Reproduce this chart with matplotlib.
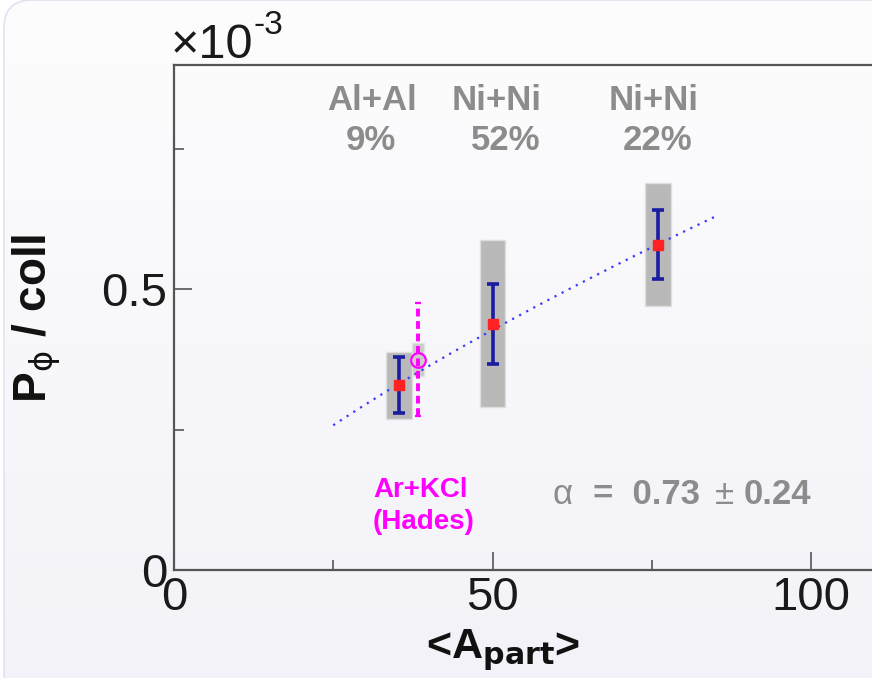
import numpy as np
import matplotlib
matplotlib.use("Agg")
import matplotlib.pyplot as plt
from matplotlib.patches import FancyBboxPatch
from matplotlib.transforms import IdentityTransform

plt.rcParams['font.family'] = ['Liberation Sans', 'DejaVu Sans']

# --- data (P_phi/coll in units of 1e-3) ---
systems = ['Al+Al', 'Ni+Ni', 'Ni+Ni']
shares = ['9%', '52%', '22%']
apart = [35.3, 50.0, 76.0]
p_phi = [0.329, 0.439, 0.580]
stat_err = [0.050, 0.071, 0.061]
sys_err = [0.060, 0.149, 0.110]
box_halfwidth = [2.0, 2.0, 2.0]

hades_apart = [38.3]
hades_p = [0.375]
hades_stat = [0.100]
hades_sys = [0.030]
hades_halfwidth = [1.0]

fit_alpha = 0.73
fit_alpha_err = 0.24
fit_norm = 0.0246
fit_range = [25.0, 85.0]

xticks = [0, 50, 100]
yticks = [0, 0.5]
yticklabels = ['0', '0.5']

W, H = 872, 678
fig = plt.figure(figsize=(W / 100, H / 100), dpi=100)
fig.patch.set_facecolor('white')


def px(x, y):
    # pixel position (from top-left) -> figure fraction
    return x / W, 1 - y / H


# background panel with rounded corner and soft gradient
bg = fig.add_axes([0, 0, 1, 1], zorder=-10)
bg.axis('off')
grad = np.linspace(0, 1, 256).reshape(-1, 1)
top = np.array([0.992, 0.992, 0.994])
bot = np.array([0.953, 0.949, 0.973])
img = top + (bot - top) * grad[:, :, None]
panel = FancyBboxPatch((4, -40), 950, H + 40, boxstyle='round,pad=0,rounding_size=28',
                       transform=IdentityTransform(), facecolor='none',
                       edgecolor='#e2e2f2', lw=1.2)
bg.add_patch(panel)
im = bg.imshow(img, extent=[0, 1, 0, 1], aspect='auto', origin='upper')
im.set_clip_path(panel)
bg.set_xlim(0, 1)
bg.set_ylim(0, 1)

# main axes
ax = fig.add_axes([174 / W, 108 / H, 120 * 6.37 / W, 505 / H])
ax.patch.set_alpha(0)
ax.set_xlim(0, 120)
ax.set_ylim(0, 0.9)

# systematic boxes
ax.bar(apart, [2 * s for s in sys_err], bottom=[p - s for p, s in zip(p_phi, sys_err)],
       width=[2 * w for w in box_halfwidth], color='#b9b9b9', edgecolor='#dedede',
       lw=1, zorder=1)
ax.bar(hades_apart, [2 * s for s in hades_sys],
       bottom=[p - s for p, s in zip(hades_p, hades_sys)],
       width=[2 * w for w in hades_halfwidth], color='#cbcbcb', edgecolor='#e2e2e2',
       lw=1, zorder=1)

# power-law fit
xf = np.linspace(fit_range[0], fit_range[1], 120)
ax.plot(xf, fit_norm * xf ** fit_alpha, color='#3a3aff', lw=1.6,
        linestyle=(0, (1, 2.6)), zorder=2)

# data points
ax.errorbar(apart, p_phi, yerr=stat_err, fmt='s', color='#ff2222', ms=7,
            ecolor='#1c1ca0', elinewidth=2.6, capsize=4, capthick=2.6, zorder=3)
hd = ax.errorbar(hades_apart, hades_p, yerr=hades_stat, fmt='o', mfc='none',
                 mec='#ff00ff', mew=1.6, ms=10.5, ecolor='#ff00ff', elinewidth=2.8,
                 capsize=2, capthick=2.5, zorder=3)
hd[2][0].set_linestyle((0, (2, 1.2)))

# axes styling
for side in ['left', 'bottom', 'top']:
    ax.spines[side].set_color('#555555')
    ax.spines[side].set_linewidth(1.6)
ax.spines['right'].set_visible(False)

ax.set_xticks(xticks)
ax.set_xticks([25, 75], minor=True)
ax.set_yticks(yticks)
ax.set_yticks([0.25, 0.75], minor=True)
tickfont = ['Liberation Sans Narrow', 'Liberation Sans']
ax.set_xticklabels([str(t) for t in xticks], fontfamily=tickfont, fontsize=34,
                   color='#1a1a1a')
ax.set_yticklabels(yticklabels, fontfamily=tickfont, fontsize=34, color='#1a1a1a')
ax.tick_params(axis='both', which='major', direction='in', length=13, width=1.2,
               color='#555555')
ax.tick_params(axis='both', which='minor', direction='in', length=7, width=1.2,
               color='#555555')
ax.tick_params(axis='x', which='major', pad=4)
ax.tick_params(axis='y', which='major', pad=5)

# exponent label
fig.text(*px(171, 58), '×10', fontsize=35, fontfamily=tickfont, color='#1a1a1a',
         ha='left', va='baseline')
fig.text(*px(253, 34), '-3', fontsize=24, fontfamily=tickfont, color='#1a1a1a',
         ha='left', va='baseline')

# axis titles
fig.text(*px(37, 318), r'P$_{\mathrm{\phi}}$ / coll', rotation=90, fontsize=33,
         fontweight='bold', color='#111111', ha='center', va='center')
fig.text(*px(503, 650), r'<A$_{\mathbf{part}}$>', fontsize=31, fontweight='bold',
         color='#111111', ha='center', va='center')

# system labels
gray = '#8c8c8c'
name_x = [372, 497, 654]
share_x = [371, 506, 658]
for name, share, nx, sx in zip(systems, shares, name_x, share_x):
    fig.text(*px(nx, 100), name, fontsize=25, fontweight='bold', color=gray,
             ha='center', va='center')
    fig.text(*px(sx, 140), share, fontsize=25, fontweight='bold', color=gray,
             ha='center', va='center')

fig.text(*px(421, 490), 'Ar+KCl', fontsize=20, fontweight='bold', color='#ff00ff',
         ha='center', va='center')
fig.text(*px(424, 522), '(Hades)', fontsize=20, fontweight='bold', color='#ff00ff',
         ha='center', va='center')

# fit result
fig.text(*px(552, 495), 'α', fontsize=25, color=gray, ha='left', va='center')
fig.text(*px(593, 495), f'=  {fit_alpha:.2f}', fontsize=25, fontweight='bold',
         color=gray, ha='left', va='center')
fig.text(*px(715, 495), '±', fontsize=25, color=gray, ha='left', va='center')
fig.text(*px(744, 495), f'{fit_alpha_err:.2f}', fontsize=25, fontweight='bold',
         color=gray, ha='left', va='center')

fig.savefig('out.png', dpi=100)
